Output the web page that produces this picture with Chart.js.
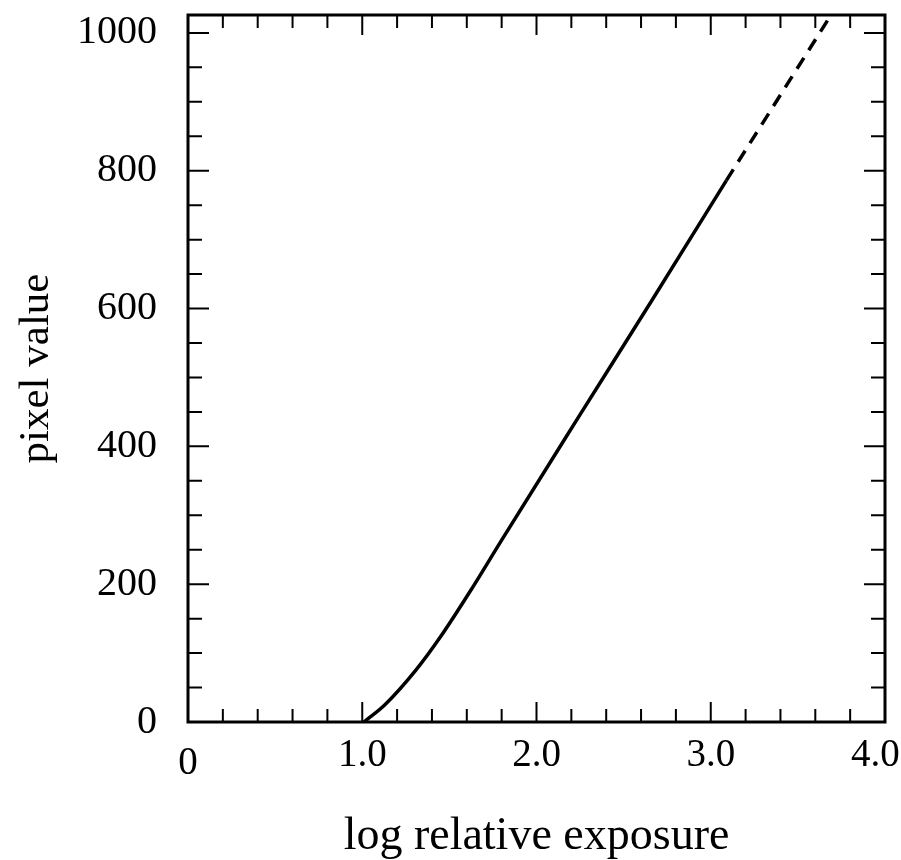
<!DOCTYPE html>
<html>
<head>
<meta charset="utf-8">
<script src="https://cdn.jsdelivr.net/npm/chart.js@4"></script>
<style>
  html, body { margin: 0; padding: 0; background: #fff; }
</style>
</head>
<body>
<canvas id="chart" width="901" height="860"></canvas>
<script>
// characteristic curve
const logExposure = [1.01, 1.13, 1.31, 1.45, 1.63, 1.80, 2.24, 2.66, 3.09];
const pixelValue  = [0, 25, 76, 124, 194, 264, 442, 611, 786];
// dashed extrapolation
const extraExposure = [3.09, 3.69];
const extraPixel    = [786, 1026];
// axes
const xMajor = [0, 1, 2, 3, 4];
const xLabels = ['0', '1.0', '2.0', '3.0', '4.0  '];
const yMajor = [0, 200, 400, 600, 800, 1000];
const yLabels = ['0', '200', '400', '600', '800', '1000'];

const serif = "'Liberation Serif', 'Times New Roman', serif";
const pts = (xs, ys) => xs.map((v, i) => ({ x: v, y: ys[i] }));
const near = (arr, v) => arr.findIndex(m => Math.abs(m - v) < 1e-6);
const noPad = s => { s.paddingTop = s.paddingBottom = s.paddingLeft = s.paddingRight = 0; };

// frame + inward ticks on all four sides
const frameTicks = {
    id: 'frameTicks',
    afterDatasetsDraw(chart) {
        const { ctx, chartArea: a, scales: { x, y } } = chart;
        ctx.save();
        ctx.strokeStyle = '#000';
        ctx.lineWidth = 2;
        ctx.beginPath();
        x.ticks.forEach(t => {
            const px = x.getPixelForValue(t.value), len = near(xMajor, t.value) >= 0 ? 20 : 13;
            ctx.moveTo(px, a.bottom); ctx.lineTo(px, a.bottom - len);
            ctx.moveTo(px, a.top); ctx.lineTo(px, a.top + len);
        });
        y.ticks.forEach(t => {
            const py = y.getPixelForValue(t.value), len = near(yMajor, t.value) >= 0 ? 21 : 14;
            ctx.moveTo(a.left, py); ctx.lineTo(a.left + len, py);
            ctx.moveTo(a.right, py); ctx.lineTo(a.right - len, py);
        });
        ctx.stroke();
        ctx.lineWidth = 3;
        ctx.strokeRect(a.left, a.top, a.right - a.left, a.bottom - a.top);
        ctx.restore();
    }
};

new Chart(document.getElementById('chart'), {
    type: 'scatter',
    data: {
        datasets: [
            { data: pts(logExposure, pixelValue), showLine: true, borderColor: '#000', borderWidth: 3.5, pointRadius: 0, cubicInterpolationMode: 'monotone' },
            { data: pts(extraExposure, extraPixel), showLine: true, borderColor: '#000', borderWidth: 3.5, pointRadius: 0, borderDash: [13, 9] }
        ]
    },
    options: {
        responsive: false, animation: false, devicePixelRatio: 1,
        layout: { padding: { top: 15, right: 16, left: 0, bottom: 0 } },
        plugins: { legend: { display: false }, tooltip: { enabled: false } },
        scales: {
            x: {
                type: 'linear', min: 0, max: 4,
                grid: { display: false, drawTicks: false }, border: { display: false },
                ticks: {
                    stepSize: 0.2, autoSkip: false, maxRotation: 0, padding: 14, color: '#000',
                    // the origin "0" sits a bit lower in the original
                    font: c => ({ family: serif, size: 39, lineHeight: c.tick && c.tick.value === 0 ? 1.41 : 1 }),
                    callback: v => { const i = near(xMajor, v); return i >= 0 ? xLabels[i] : ''; }
                },
                title: { display: true, text: 'log relative exposure', color: '#000', font: { family: serif, size: 46, lineHeight: 1 }, padding: { top: 0, bottom: 0 } },
                afterFit: s => { s.height = 138; noPad(s); }
            },
            y: {
                type: 'linear', min: 0, max: 1026,
                grid: { display: false, drawTicks: false }, border: { display: false },
                ticks: {
                    stepSize: 50, includeBounds: false, autoSkip: false, padding: 31, color: '#000',
                    font: { family: serif, size: 40 },
                    callback: v => { const i = near(yMajor, v); return i >= 0 ? yLabels[i] : ''; }
                },
                title: { display: true, text: 'pixel value', color: '#000', font: { family: serif, size: 43, lineHeight: 1 }, padding: { top: 15, bottom: 0 } },
                afterFit: s => { s.width = 188; noPad(s); }
            }
        }
    },
    plugins: [frameTicks]
});
</script>
</body>
</html>
